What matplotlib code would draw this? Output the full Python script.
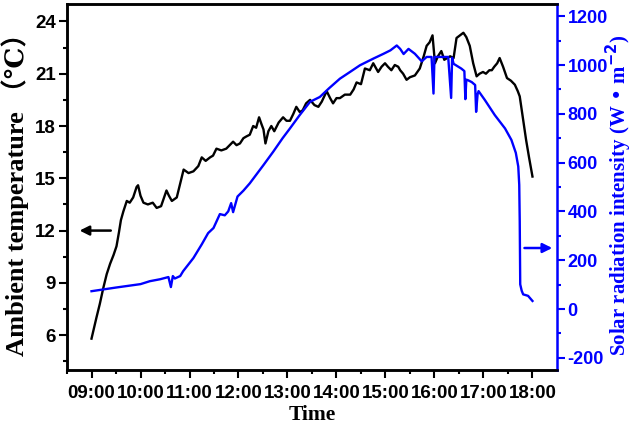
import matplotlib
matplotlib.use("Agg")
import matplotlib.pyplot as plt

# ambient temperature trace (hour of day, deg C)
temp_hours = [9.00, 9.05, 9.10, 9.17, 9.24, 9.31, 9.38, 9.45, 9.51, 9.56, 9.60, 9.65, 9.72,
              9.78, 9.85, 9.92, 9.95, 10.00, 10.06, 10.15, 10.25, 10.33, 10.42, 10.53, 10.58,
              10.64, 10.74, 10.82, 10.88, 10.98, 11.08, 11.18, 11.25, 11.33, 11.42, 11.48,
              11.55, 11.65, 11.75, 11.82, 11.89, 11.96, 12.03, 12.10, 12.16, 12.23, 12.30,
              12.36, 12.42, 12.47, 12.51, 12.55, 12.61, 12.67, 12.73, 12.82, 12.91, 12.98,
              13.05, 13.12, 13.18, 13.25, 13.31, 13.38, 13.46, 13.55, 13.63, 13.70, 13.80,
              13.87, 13.93, 14.00, 14.07, 14.17, 14.28, 14.35, 14.41, 14.50, 14.58, 14.68,
              14.75, 14.85, 14.92, 14.99, 15.05, 15.12, 15.19, 15.26, 15.30, 15.36, 15.43,
              15.50, 15.60, 15.70, 15.78, 15.84, 15.90, 15.96, 16.01, 16.07, 16.14, 16.20,
              16.26, 16.32, 16.39, 16.45, 16.52, 16.59, 16.65, 16.72, 16.79, 16.86, 16.92,
              16.99, 17.05, 17.12, 17.17, 17.22, 17.28, 17.33, 17.40, 17.48, 17.56, 17.64,
              17.70, 17.74, 17.81, 17.87, 17.93, 18.00]
temp_vals = [5.8, 6.4, 7.0, 7.8, 8.7, 9.5, 10.1, 10.6, 11.1, 11.9, 12.6, 13.1, 13.7,
             13.6, 13.9, 14.5, 14.6, 14.0, 13.6, 13.5, 13.6, 13.3, 13.4, 14.3, 14.0,
             13.7, 13.9, 14.8, 15.5, 15.3, 15.4, 15.7, 16.2, 16.0, 16.2, 16.3,
             16.7, 16.6, 16.7, 16.9, 17.1, 16.9, 17.0, 17.3, 17.4, 17.5, 18.0,
             17.9, 18.5, 18.1, 17.8, 17.0, 17.7, 18.0, 17.7, 18.2, 18.5, 18.3,
             18.3, 18.7, 19.1, 18.8, 18.9, 19.3, 19.5, 19.2, 19.1, 19.4, 20.0,
             19.6, 19.3, 19.6, 19.6, 19.8, 19.8, 20.1, 20.5, 20.4, 21.3, 21.2,
             21.6, 21.1, 21.4, 21.6, 21.4, 21.2, 21.5, 21.4, 21.2, 21.0, 20.65,
             20.8, 20.9, 21.3, 22.0, 22.6, 22.8, 23.2, 21.6, 22.0, 22.3, 21.8,
             21.9, 22.0, 21.9, 23.05, 23.2, 23.35, 23.1, 22.6, 21.6, 20.85, 21.0,
             21.1, 21.0, 21.2, 21.2, 21.4, 21.6, 21.9, 21.4, 20.75, 20.6, 20.37,
             20.0, 19.7, 18.35, 17.2, 16.2, 15.1]

# solar radiation trace (hour of day, W/m2)
solar_hours = [9.00, 9.50, 10.00, 10.19, 10.40, 10.57, 10.62, 10.66, 10.70, 10.81, 10.87,
               11.08, 11.25, 11.38, 11.49, 11.62, 11.72, 11.79, 11.85, 11.89, 11.98, 12.10,
               12.23, 12.51, 12.71, 12.90, 13.05, 13.25, 13.46, 13.66, 13.85, 14.07, 14.28,
               14.48, 14.75, 14.96, 15.10, 15.23, 15.30, 15.37, 15.47, 15.60, 15.74, 15.84,
               15.94, 15.98, 16.00, 16.28, 16.34, 16.36, 16.39, 16.55, 16.61, 16.63, 16.65,
               16.69, 16.76, 16.83, 16.85, 16.88, 16.90, 17.03, 17.23, 17.44, 17.57, 17.66,
               17.71, 17.73, 17.74, 17.75, 17.78, 17.81, 17.91, 18.00]
solar_vals = [73, 88, 102, 114, 122, 131, 90, 135, 125, 135, 155,
              209, 265, 311, 332, 389, 384, 400, 434, 397, 461, 485,
              515, 590, 645, 700, 740, 795, 849, 869, 905, 944, 972,
              999, 1026, 1046, 1060, 1080, 1066, 1045, 1066, 1046, 1015, 1033,
              1033, 883, 1033, 1033, 865, 1030, 1005, 985, 975, 860, 940,
              937, 930, 918, 808, 880, 893, 856, 795, 740, 693, 640,
              584, 509, 360, 101, 75, 60, 54, 33]

hour_ticks = [9, 10, 11, 12, 13, 14, 15, 16, 17, 18]
hour_labels = ["09:00", "10:00", "11:00", "12:00", "13:00", "14:00", "15:00",
               "16:00", "17:00", "18:00"]
temp_ticks = [6, 9, 12, 15, 18, 21, 24]
solar_ticks = [-200, 0, 200, 400, 600, 800, 1000, 1200]

BLUE = "#0000ff"
tick_font = {"family": "Liberation Sans", "weight": "bold", "size": 13.5}
label_family = ["Liberation Serif", "DejaVu Serif", "Noto Sans CJK SC"]

fig = plt.figure(figsize=(6.34, 4.30), dpi=100)
ax = fig.add_axes([0.1057, 0.1395, 0.7728, 0.8512])
ax2 = ax.twinx()

ax.plot(temp_hours, temp_vals, color="black", lw=1.7)
ax2.plot(solar_hours, solar_vals, color=BLUE, lw=1.7)

ax.set_xlim(8.5, 18.5)
ax.set_ylim(4, 25)
ax2.set_ylim(-250, 1250)

ax.set_xticks(hour_ticks)
ax.set_xticklabels(hour_labels, fontdict=tick_font)
ax.set_xticks([h + 0.5 for h in hour_ticks[:-1]] + [8.5], minor=True)
ax.set_yticks(temp_ticks)
ax.set_yticklabels([str(t) for t in temp_ticks], fontdict=tick_font)
ax.set_yticks([t + 1.5 for t in temp_ticks[:-1]] + [4.5], minor=True)
ax2.set_yticks(solar_ticks)
ax2.set_yticklabels([str(s) for s in solar_ticks], fontdict=dict(tick_font, size=13),
                    color=BLUE)
ax2.set_yticks([s + 100 for s in solar_ticks[:-1]], minor=True)

ax.tick_params(which="major", length=6, width=1.5, direction="out", pad=2)
ax.tick_params(which="minor", length=3, width=1.5, direction="out")
ax.tick_params(axis="x", pad=5)
ax.tick_params(top=False, right=False)
ax2.tick_params(which="major", length=6, width=1.5, color=BLUE, direction="out", pad=1.5)
ax2.tick_params(which="minor", length=3, width=1.5, color=BLUE, direction="out")

for name, sp in ax2.spines.items():
    sp.set_linewidth(1.8)
ax2.spines["right"].set_color(BLUE)
ax.spines["right"].set_visible(False)
for name in ("left", "bottom", "top"):
    ax.spines[name].set_linewidth(1.8)

ax.set_xlabel("Time", family=label_family, weight="bold", size=15.5, labelpad=2)

# axis titles drawn as figure text so they sit flush with the edges
fig.text(0.002, 0.562, "Ambient temperature （℃）", family=label_family, weight="bold",
         size=19, rotation=90, ha="left", va="center")
fig.text(1.0, 0.545, "Solar radiation intensity (W • m$^{\\mathbf{-2}}$)",
         family=label_family, weight="bold", size=15, color=BLUE,
         rotation=90, ha="right", va="center")

# direction arrows pointing to each series' axis
ax.annotate("", xy=(8.7, 12), xytext=(9.45, 12),
            arrowprops=dict(arrowstyle="-|>", color="black", lw=1.8, mutation_scale=14))
ax2.annotate("", xy=(18.46, 250), xytext=(17.78, 250),
             arrowprops=dict(arrowstyle="-|>", color=BLUE, lw=1.8, mutation_scale=14))

fig.savefig("out.png", dpi=100)
